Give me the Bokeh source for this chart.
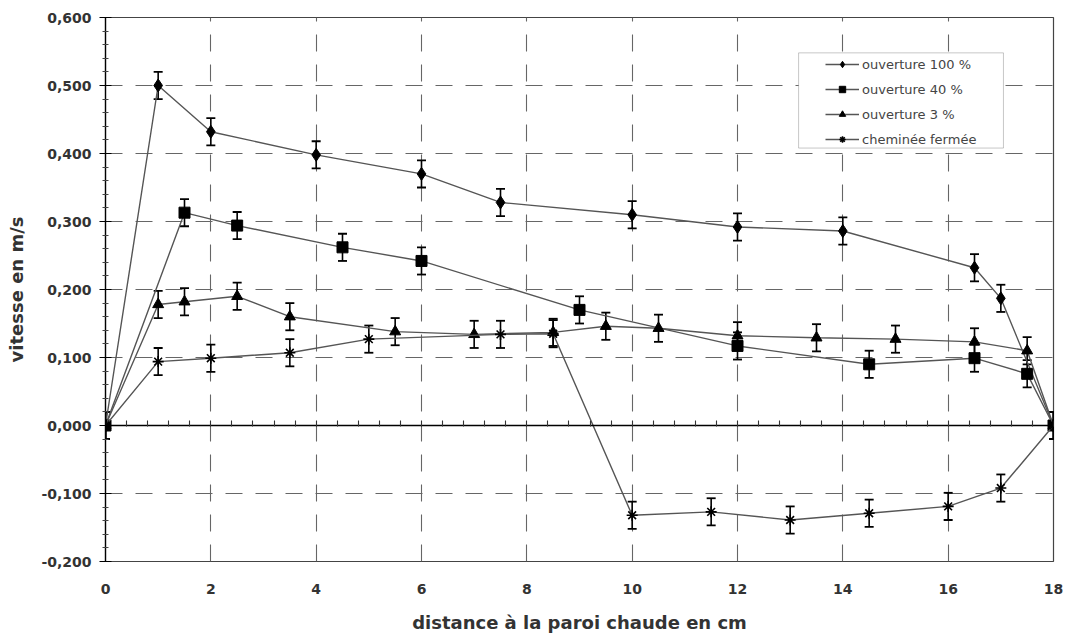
import numpy as np
from bokeh.plotting import figure
from bokeh.models import (Range1d, FixedTicker, LinearAxis, Whisker, TeeHead,
                          ColumnDataSource, Legend, LegendItem, BoxAnnotation)
from bokeh.embed import file_html
from bokeh.resources import INLINE

# ---------------- data ----------------
x_100 = [0, 1, 2, 4, 6, 7.5, 10, 12, 14, 16.5, 17, 18]
y_100 = [0.000, 0.500, 0.432, 0.398, 0.370, 0.328, 0.310, 0.292, 0.286, 0.232, 0.187, 0.000]
e_100 = [0.02, 0.02, 0.02, 0.02, 0.02, 0.02, 0.02, 0.02, 0.02, 0.02, 0.02, 0.02]

x_40 = [0, 1.5, 2.5, 4.5, 6, 9, 12, 14.5, 16.5, 17.5, 18]
y_40 = [0.000, 0.313, 0.294, 0.262, 0.242, 0.170, 0.117, 0.090, 0.099, 0.076, 0.000]
e_40 = [0.02, 0.02, 0.02, 0.02, 0.02, 0.02, 0.02, 0.02, 0.02, 0.02, 0.02]

x_3 = [0, 1, 1.5, 2.5, 3.5, 5.5, 7, 8.5, 9.5, 10.5, 12, 13.5, 15, 16.5, 17.5, 18]
y_3 = [0.000, 0.178, 0.182, 0.190, 0.160, 0.138, 0.134, 0.137, 0.146, 0.143, 0.132, 0.129, 0.127,
       0.123, 0.110, 0.000]
e_3 = [0.02, 0.02, 0.02, 0.02, 0.02, 0.02, 0.02, 0.02, 0.02, 0.02, 0.02, 0.02, 0.02, 0.02, 0.02, 0.02]

x_f = [0, 1, 2, 3.5, 5, 7.5, 8.5, 10, 11.5, 13, 14.5, 16, 17, 18]
y_f = [0.000, 0.094, 0.099, 0.107, 0.127, 0.134, 0.135, -0.132, -0.127, -0.139, -0.129, -0.119,
       -0.092, 0.000]
e_f = [0.02, 0.02, 0.02, 0.02, 0.02, 0.02, 0.02, 0.02, 0.02, 0.02, 0.02, 0.02, 0.02, 0.02]

series_labels = ["ouverture 100 %", "ouverture 40 %", "ouverture 3 %", "cheminée fermée"]

x_ticks = [0, 2, 4, 6, 8, 10, 12, 14, 16, 18]
x_tick_labels = ["0", "2", "4", "6", "8", "10", "12", "14", "16", "18"]
y_ticks = [-0.2, -0.1, 0.0, 0.1, 0.2, 0.3, 0.4, 0.5, 0.6]
y_tick_labels = ["-0,200", "-0,100", "0,000", "0,100", "0,200", "0,300", "0,400", "0,500", "0,600"]

x_title = "distance à la paroi chaude en cm"
y_title = "vitesse en m/s"

# ---------------- figure ----------------
FONT = "DejaVu Sans"
TXT = "#333333"

p = figure(width=1066, height=636, x_range=Range1d(0, 18), y_range=Range1d(-0.2, 0.6),
           output_backend="svg", toolbar_location=None,
           min_border_left=105, min_border_right=13, min_border_top=17, min_border_bottom=75)
p.background_fill_color = "white"
p.border_fill_color = "white"
p.outline_line_color = "#444444"
p.outline_line_width = 1.2

# minor ticks (derived from the major ticks)
y_minor = []
for a, b in zip(y_ticks[:-1], y_ticks[1:]):
    y_minor += list(np.linspace(a, b, 6)[1:-1])
x_minor = []
for a, b in zip(x_ticks[:-1], x_ticks[1:]):
    x_minor += list(np.linspace(a, b, 6)[:-1])
x_minor.append(x_ticks[-1])

xt = FixedTicker(ticks=x_ticks)
yt = FixedTicker(ticks=y_ticks, minor_ticks=y_minor)

# bottom axis: labels only
xa = p.xaxis[0]
xa.ticker = xt
xa.major_label_overrides = {t: l for t, l in zip(x_ticks, x_tick_labels)}
xa.axis_line_color = None
xa.major_tick_line_color = None
xa.minor_tick_line_color = None
xa.major_tick_in = 0
xa.major_tick_out = 0
xa.minor_tick_in = 0
xa.minor_tick_out = 0
xa.major_label_standoff = 22
xa.major_label_text_font = FONT
xa.major_label_text_font_style = "bold"
xa.major_label_text_font_size = "14px"
xa.major_label_text_color = TXT
xa.axis_label = x_title
xa.axis_label_text_font = FONT
xa.axis_label_text_font_style = "bold"
xa.axis_label_text_font_size = "18px"
xa.axis_label_text_color = TXT
xa.axis_label_standoff = 15

# left axis
ya = p.yaxis[0]
ya.ticker = yt
ya.major_label_overrides = {t: l for t, l in zip(y_ticks, y_tick_labels)}
ya.axis_line_color = "black"
ya.axis_line_width = 1.3
ya.major_tick_in = 6
ya.major_tick_out = 6
ya.major_tick_line_width = 1.2
ya.minor_tick_in = 3
ya.minor_tick_out = 3
ya.minor_tick_line_color = "#444444"
ya.major_label_standoff = 8
ya.major_label_text_font = FONT
ya.major_label_text_font_style = "bold"
ya.major_label_text_font_size = "14px"
ya.major_label_text_color = TXT
ya.axis_label = y_title
ya.axis_label_text_font = FONT
ya.axis_label_text_font_style = "bold"
ya.axis_label_text_font_size = "18px"
ya.axis_label_text_color = TXT
ya.axis_label_standoff = 11

# horizontal axis line crossing at y = 0 (tick marks only, no labels)
zero_axis = LinearAxis(fixed_location=0, ticker=FixedTicker(ticks=[], minor_ticks=x_minor),
                       axis_line_color="black", axis_line_width=1.3,
                       major_tick_in=0, major_tick_out=0, minor_tick_in=1, minor_tick_out=5,
                       minor_tick_line_color="#333333", minor_tick_line_width=1.1,
                       major_label_standoff=0)
p.add_layout(zero_axis, "above")

# grid
p.xgrid.ticker = xt
p.ygrid.ticker = FixedTicker(ticks=y_ticks)
for g in (p.xgrid, p.ygrid):
    g.grid_line_color = "#666666"
    g.grid_line_width = 1.1
    g.grid_line_dash = "17 13"

# legend frame (white box)
box = BoxAnnotation(left=13.16, right=17.05, top=0.548, bottom=0.408,
                    fill_color="white", fill_alpha=1.0, line_color="#444444", line_width=1.0,
                    level="glyph")
p.add_layout(box)

LINE = "#555555"
series = [
    (x_100, y_100, e_100, "diamond", 13),
    (x_40, y_40, e_40, "square", 11),
    (x_3, y_3, e_3, "triangle", 11),
    (x_f, y_f, e_f, "asterisk", 11),
]
items = []
for (xs, ys, es, mk, sz), lab in zip(series, series_labels):
    src = ColumnDataSource(dict(x=xs, y=ys,
                                upper=[y + e for y, e in zip(ys, es)],
                                lower=[y - e for y, e in zip(ys, es)]))
    ln = p.line("x", "y", source=src, line_color=LINE, line_width=1.4)
    w = Whisker(base="x", upper="upper", lower="lower", source=src, dimension="height",
                line_color="black", line_width=1.6,
                upper_head=TeeHead(size=9, line_color="black", line_width=1.8),
                lower_head=TeeHead(size=9, line_color="black", line_width=1.8))
    p.add_layout(w)
    if mk == "asterisk":
        sc = p.scatter("x", "y", source=src, marker=mk, size=sz, line_color="black", line_width=1.6)
    else:
        sc = p.scatter("x", "y", source=src, marker=mk, size=sz, fill_color="black",
                       line_color="black")
    items.append(LegendItem(label=lab, renderers=[ln, sc]))

legend = Legend(items=items, location=(717, 411), padding=3, spacing=9,
                label_height=16, glyph_height=16, glyph_width=34, label_standoff=3,
                label_text_font=FONT, label_text_font_size="13px", label_text_color="#444444",
                border_line_alpha=0, background_fill_alpha=0, margin=0)
p.add_layout(legend)

open("out.html", "w").write(file_html(p, INLINE))
